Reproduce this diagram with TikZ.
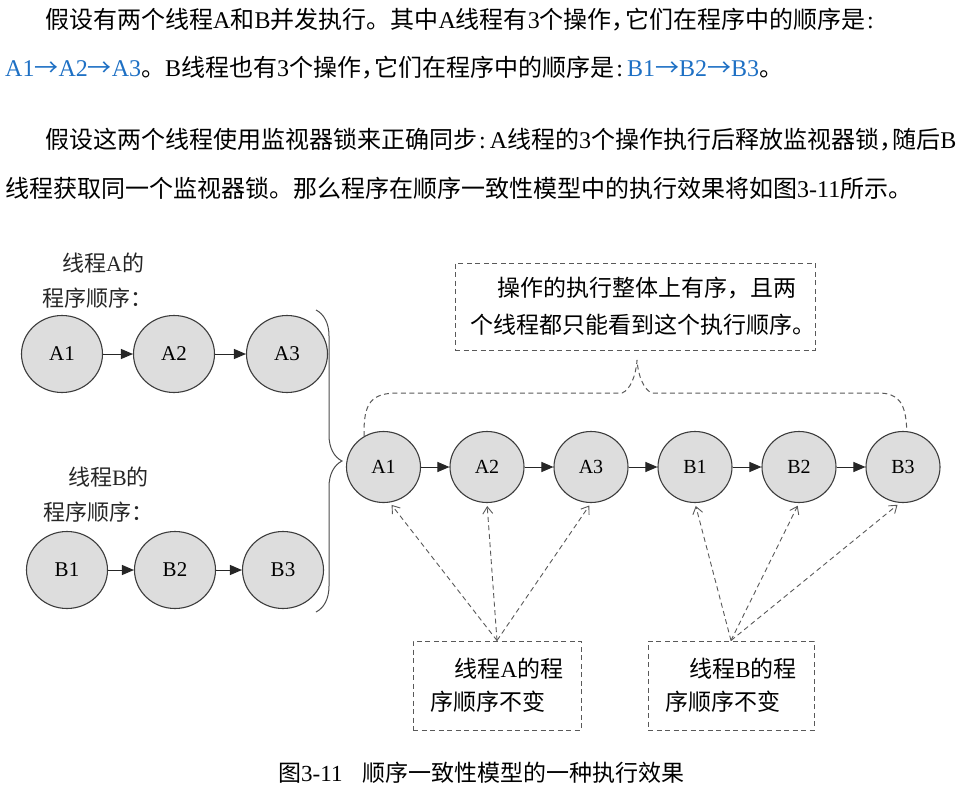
\documentclass[tikz,border=0pt]{standalone}
\usepackage{fontspec}
\setmainfont{Liberation Serif}
\newfontfamily\cjk{Noto Sans CJK SC}
\newfontfamily\lat{Liberation Serif}
\usetikzlibrary{arrows.meta, positioning, shapes.geometric, decorations.pathreplacing}
\definecolor{opfill}{RGB}{221,221,221}
\definecolor{opline}{RGB}{60,60,60}
\definecolor{seqblue}{RGB}{30,112,196}
% 半角标点
\newcommand\dou{，\kern-0.45em}
\newcommand\mao{\hspace{2pt}{\lat :}\hspace{4pt}}
\newcommand\jt{{\cjk →}}

\begin{document}
\begin{tikzpicture}[x=1pt, y=-1pt,
    op/.style={ellipse, draw=opline, line width=1.1pt, fill=opfill, inner sep=0pt},
    opbig/.style={op, minimum width=81pt, minimum height=77pt, font=\lat\fontsize{21}{21}\selectfont},
    opsmall/.style={op, minimum width=74pt, minimum height=71pt, font=\lat\fontsize{20}{20}\selectfont},
    flow/.style={-{Triangle[length=12pt, width=10pt]}, line width=1pt, black!85},
    note/.style={draw=black!65, dash pattern=on 5pt off 3.5pt, line width=1pt, align=left, inner sep=0pt, font=\cjk\fontsize{23}{33}\selectfont},
    watch/.style={-{Straight Barb[length=7pt, width=10pt]}, dash pattern=on 5pt off 3.5pt, line width=0.9pt, black!65, shorten >=3pt},
    para/.style={anchor=west, inner sep=0pt, font=\cjk\fontsize{24}{24}\selectfont},
    lab/.style={anchor=west, align=left, inner sep=0pt, black!85, font=\cjk\fontsize{22}{35}\selectfont}
]
    \useasboundingbox (0,0) rectangle (970,803);

    % 正文
    \node[para] (p1) at (45,20) {假设有两个线程{\lat A}和{\lat B}并发执行。其中{\lat A}线程有{\lat 3}个操作\dou 它们在程序中的顺序是\mao};
    \node[para] (p2) at (5,68) {{\lat\color{seqblue}A1\jt A2\jt A3}。{\lat B}线程也有{\lat 3}个操作\dou 它们在程序中的顺序是\mao{\lat\color{seqblue}B1\jt B2\jt B3}。};
    \node[para] (p3) at (45,140) {假设这两个线程使用监视器锁来正确同步\mao{\lat A}线程的{\lat 3}个操作执行后释放监视器锁\dou 随后{\lat B}};
    \node[para] (p4) at (5,188) {线程获取同一个监视器锁。那么程序在顺序一致性模型中的执行效果将如图{\lat 3-11}所示。};

    % 各线程的程序顺序
    \node[lab] (labA) at (42,280.5) {\hspace*{20pt}线程{\lat A}的\\程序顺序：};
    \node[opbig] (a1) at (62,354) {A1};
    \node[opbig] (a2) at (174,354) {A2};
    \node[opbig] (a3) at (287,354) {A3};

    \node[lab] (labB) at (43,494.5) {\hspace*{25pt}线程{\lat B}的\\程序顺序：};
    \node[opbig] (b1) at (67,570) {B1};
    \node[opbig] (b2) at (175,570) {B2};
    \node[opbig] (b3) at (283,570) {B3};

    \draw[flow] (a1) -- (a2);
    \draw[flow] (a2) -- (a3);
    \draw[flow] (b1) -- (b2);
    \draw[flow] (b2) -- (b3);

    \draw[decorate, decoration={brace, amplitude=26pt}, line width=1pt, black!70] (316,310) -- (316,612);

    % 顺序一致性模型中的执行顺序
    \node[opsmall] (sa1) at (383.5,467) {A1};
    \node[opsmall] (sa2) at (487,467) {A2};
    \node[opsmall] (sa3) at (591,467) {A3};
    \node[opsmall] (sb1) at (695,467) {B1};
    \node[opsmall] (sb2) at (799,467) {B2};
    \node[opsmall] (sb3) at (903,467) {B3};

    \draw[flow] (sa1) -- (sa2);
    \draw[flow] (sa2) -- (sa3);
    \draw[flow] (sa3) -- (sb1);
    \draw[flow] (sb1) -- (sb2);
    \draw[flow] (sb2) -- (sb3);

    % 标注
    \node[note, minimum width=360pt, minimum height=87pt, font=\cjk\fontsize{23}{37}\selectfont] (whole) at (635,306.5) {\hspace*{42pt}操作的执行整体上有序，且两\\\hspace*{15pt}个线程都只能看到这个执行顺序。};
    \draw[dash pattern=on 5pt off 3.5pt, line width=1pt, black!65] (sa1.122) .. controls (363,402) and (372,393) .. (398,393) -- (622,393) .. controls (630,390) and (636,376) .. (637,360) .. controls (638,376) and (644,390) .. (652,393) -- (878,393) .. controls (898,393) and (906,402) .. (sb3.84);

    \node[note, minimum width=168pt, minimum height=89pt] (keepa) at (497,685.5) {\hspace*{24pt}线程{\lat A}的程\\序顺序不变};
    \node[note, minimum width=166pt, minimum height=89pt] (keepb) at (731,685.5) {\hspace*{24pt}线程{\lat B}的程\\序顺序不变};

    \draw[watch] (keepa.north) -- (sa1.-80);
    \draw[watch] (keepa.north) -- (sa2.south);
    \draw[watch] (keepa.north) -- (sa3.south);
    \draw[watch] (keepb.north) -- (sb1.south);
    \draw[watch] (keepb.north) -- (sb2.south);
    \draw[watch] (keepb.north) -- (sb3.-95);

    % 图题
    \node[para, font=\cjk\fontsize{23}{23}\selectfont] (cap) at (278,773) {图{\lat 3-11}\hspace{20pt}顺序一致性模型的一种执行效果};
\end{tikzpicture}
\end{document}
